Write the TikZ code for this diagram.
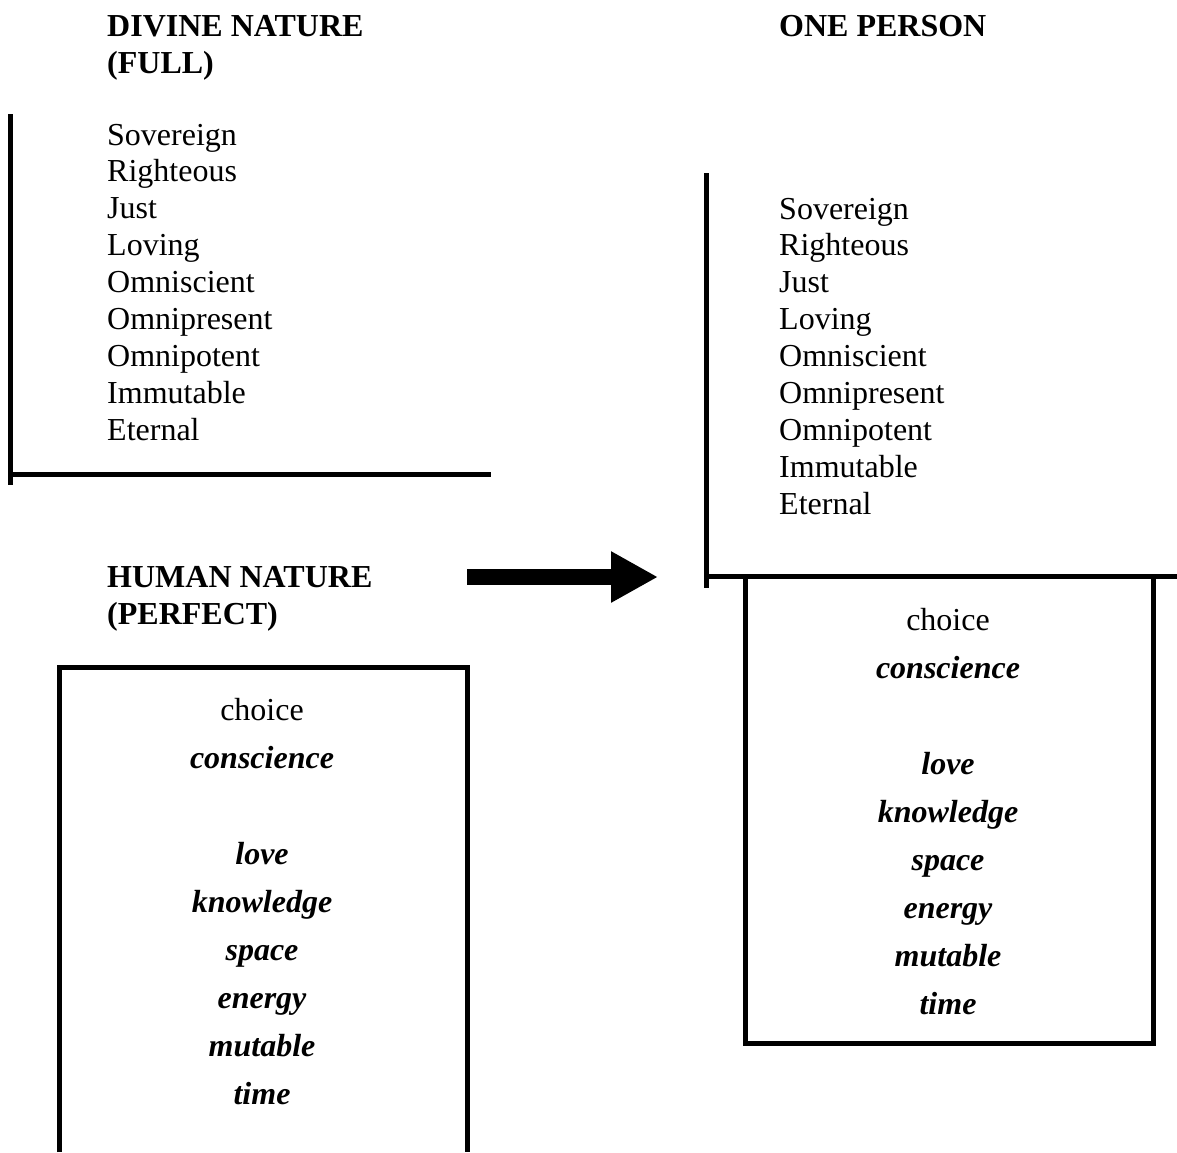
\documentclass[tikz,border=0pt]{standalone}
\usepackage{fontspec}
\setmainfont{Liberation Serif}
\usetikzlibrary{arrows.meta}
\tikzset{
  attr/.style={anchor=base west, inner sep=0pt, font=\fontsize{32}{37}\selectfont},
  heading/.style={anchor=base west, inner sep=0pt, font=\fontsize{32}{37}\selectfont\bfseries},
  plainword/.style={anchor=base, inner sep=0pt, font=\fontsize{32}{37}\selectfont},
  quality/.style={anchor=base, inner sep=0pt, font=\fontsize{32}{37}\selectfont\bfseries\itshape},
  heavyline/.style={line width=5pt},
}
\begin{document}
\begin{tikzpicture}[x=1pt,y=-1pt]
\useasboundingbox (0,0) rectangle (1177,1152);
% headings
\node[heading] (divine) at (107,36) {DIVINE NATURE};
\node[heading] (full) at (107,73) {(FULL)};
\node[heading] (one) at (779,36) {ONE PERSON};
\node[heading] (human) at (107,587) {HUMAN NATURE};
\node[heading] (perfect) at (107,624) {(PERFECT)};
% attribute lists
\foreach \w [count=\i from 0] in {Sovereign,Righteous,Just,Loving,Omniscient,Omnipresent,Omnipotent,Immutable,Eternal}
{
  \node[attr] (d\i) at (107,{145+36.9*\i}) {\w};
  \node[attr] (p\i) at (779,{219+36.9*\i}) {\w};
}
% divine bracket
\draw[heavyline] (10.5,114)--(10.5,485);
\draw[heavyline] (10.5,474)--(491,474);
\draw[heavyline] (706,173)--(706,588);
\draw[heavyline] (706,576)--(1177,576);
% human boxes
\draw[heavyline] (59,1152)--(59,667)--(467,667)--(467,1152);
\draw[heavyline] (745,576)--(745,1043)--(1153,1043)--(1153,576);
\node[plainword] (hchoice) at (262,720) {choice};
\node[plainword] (pchoice) at (948,630) {choice};
\foreach \w/\dy in {conscience/48,love/144,knowledge/192,space/240,energy/288,mutable/336,time/384}
{
  \node[quality] (h\w) at (262,720+\dy) {\w};
  \node[quality] (p\w) at (948,630+\dy) {\w};
}
% arrow
\coordinate (arrowtail) at (467,577);
\coordinate (arrowhead) at (658,577);
\draw[line width=16pt,-{Triangle[length=47pt,width=48pt]}] (arrowtail)--(arrowhead);
\end{tikzpicture}
\end{document}
